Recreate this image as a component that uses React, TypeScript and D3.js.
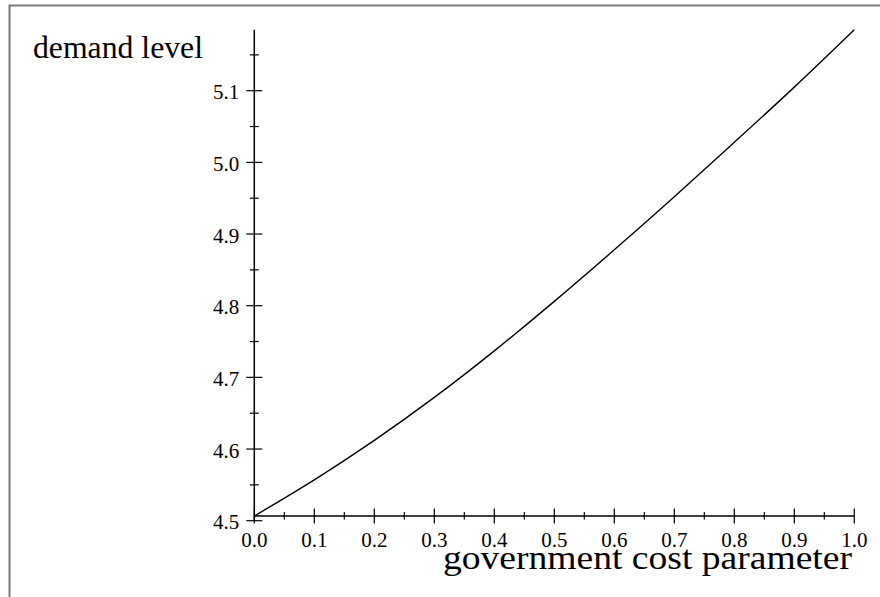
import React, { useEffect, useRef } from 'react';
import * as d3 from 'd3';

// curve
const costParam = [0, 0.1, 0.2, 0.3, 0.4, 0.5, 0.6, 0.7, 0.8, 0.9, 1.0];
const demand = [4.5065, 4.557, 4.612, 4.672, 4.737, 4.806, 4.878, 4.952, 5.028, 5.105, 5.185];

const xMajor = [0, 0.1, 0.2, 0.3, 0.4, 0.5, 0.6, 0.7, 0.8, 0.9, 1.0];
const xMinor = [0.05, 0.15, 0.25, 0.35, 0.45, 0.55, 0.65, 0.75, 0.85, 0.95];
const yMajor = [4.5, 4.6, 4.7, 4.8, 4.9, 5.0, 5.1];
const yMinor = [4.55, 4.65, 4.75, 4.85, 4.95, 5.05, 5.15];

const W = 880;
const H = 597;
const FONT = '"Liberation Serif", "Times New Roman", serif';

const App = () => {
  const svgRef = useRef<SVGSVGElement>(null);

  useEffect(() => {
    const svg = d3.select(svgRef.current);
    svg.selectAll('*').remove();

    const x = d3.scaleLinear().domain([0, 1]).range([254.3, 854.3]);
    const y = d3.scaleLinear().domain([4.5, 5.1]).range([520.7, 90.7]);
    const yTop = 5.185;
    const xAxisY = y(demand[0]);
    const x0 = x(0);

    // frame
    svg.append('rect')
      .attr('x', 9.5).attr('y', 5.5)
      .attr('width', 1000).attr('height', 1000)
      .attr('fill', 'none')
      .attr('stroke', '#7a7a7a')
      .attr('stroke-width', 2);

    const g = svg.append('g');

    // y axis
    g.append('line')
      .attr('x1', x0).attr('x2', x0)
      .attr('y1', y(yTop)).attr('y2', y(4.5))
      .attr('stroke', '#000').attr('stroke-width', 1.5);

    g.selectAll('.ymaj').data(yMajor).enter().append('line')
      .attr('x1', x0 - 8).attr('x2', x0 + 8)
      .attr('y1', d => y(d)).attr('y2', d => y(d))
      .attr('stroke', '#000').attr('stroke-width', 1.2);

    g.selectAll('.ymin').data(yMinor).enter().append('line')
      .attr('x1', x0 - 4.5).attr('x2', x0 + 4.5)
      .attr('y1', d => y(d)).attr('y2', d => y(d))
      .attr('stroke', '#000').attr('stroke-width', 1.2);

    g.selectAll('.ylab').data(yMajor).enter().append('text')
      .attr('x', x0 - 15)
      .attr('y', d => y(d) + 8.5)
      .attr('text-anchor', 'end')
      .style('font-family', FONT)
      .style('font-size', '21px')
      .text(d => d3.format('.1f')(d));

    // x axis
    g.append('line')
      .attr('x1', x(0)).attr('x2', x(1))
      .attr('y1', xAxisY).attr('y2', xAxisY)
      .attr('stroke', '#000').attr('stroke-width', 1.5);

    g.selectAll('.xmaj').data(xMajor).enter().append('line')
      .attr('x1', d => x(d)).attr('x2', d => x(d))
      .attr('y1', xAxisY - 7.5).attr('y2', xAxisY + 7.5)
      .attr('stroke', '#000').attr('stroke-width', 1.2);

    g.selectAll('.xmin').data(xMinor).enter().append('line')
      .attr('x1', d => x(d)).attr('x2', d => x(d))
      .attr('y1', xAxisY - 4).attr('y2', xAxisY + 3.5)
      .attr('stroke', '#000').attr('stroke-width', 1.2);

    g.selectAll('.xlab').data(xMajor).enter().append('text')
      .attr('x', d => x(d))
      .attr('y', 546.5)
      .attr('text-anchor', 'middle')
      .style('font-family', FONT)
      .style('font-size', '21px')
      .text(d => d3.format('.1f')(d));

    // axis titles
    svg.append('text')
      .attr('x', 33).attr('y', 58)
      .attr('textLength', 170)
      .attr('lengthAdjust', 'spacingAndGlyphs')
      .style('font-family', FONT)
      .style('font-size', '31px')
      .text('demand level');

    svg.append('text')
      .attr('x', 443).attr('y', 569)
      .attr('textLength', 409)
      .attr('lengthAdjust', 'spacingAndGlyphs')
      .style('font-family', FONT)
      .style('font-size', '34px')
      .text('government cost parameter');

    // curve
    const line = d3.line<number>()
      .x((_, i) => x(costParam[i]))
      .y(d => y(d))
      .curve(d3.curveNatural);

    g.append('path')
      .datum(demand)
      .attr('d', line)
      .attr('fill', 'none')
      .attr('stroke', '#000')
      .attr('stroke-width', 1.4);
  }, []);

  return (
    <svg
      ref={svgRef}
      width={W}
      height={H}
      style={{ position: 'absolute', left: 0, top: 0, background: '#fff' }}
    />
  );
};

export default App;
